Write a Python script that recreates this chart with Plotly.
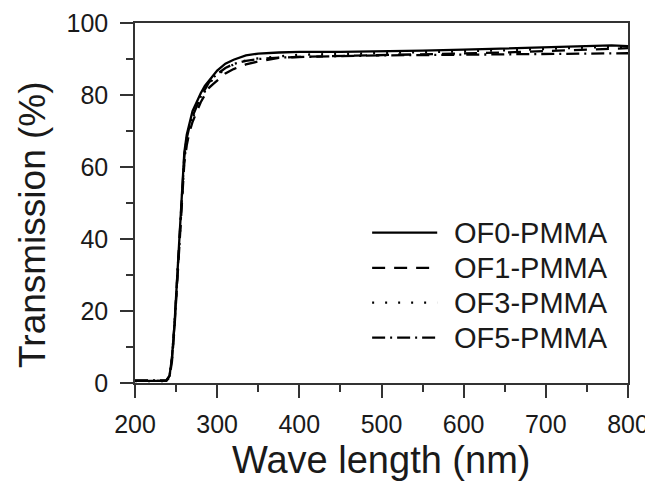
import plotly.graph_objects as go

wavelength = [200, 220, 238, 242, 245, 248, 251, 254, 257, 260, 263, 266, 270, 275, 280, 285, 290,
              295, 300, 310, 320, 335, 350, 375, 400, 450, 500, 550, 600, 650, 700, 750, 780, 800]
of0 = [0.6, 0.6, 0.6, 2, 7, 16, 28, 42, 55, 64, 69, 72, 75.5, 78, 80.5, 82.5, 84, 85.5, 86.8,
       88.7, 89.8, 91, 91.5, 91.8, 92, 92, 92.1, 92.3, 92.6, 92.9, 93.2, 93.5, 93.8, 93.6]
of1 = [0.6, 0.6, 0.6, 1.5, 6, 15, 27, 40, 52, 61, 66, 69.5, 72.5, 75.5, 78, 80, 82, 83, 84,
       86, 87.2, 88.5, 89.3, 90.3, 90.6, 90.8, 91, 91.2, 91.5, 91.8, 92.2, 92.6, 93, 93]
of3 = [0.5, 0.5, 0.5, 1.8, 6.5, 15.5, 27.5, 41, 53, 62, 67, 70.5, 73.5, 76.5, 79, 81, 83, 84.5, 85.5,
       87.3, 88.5, 89.6, 90.2, 90.8, 91.2, 91.4, 91.6, 91.8, 92.1, 92.4, 92.8, 93.1, 93.4, 93.3]
of5 = [0.7, 0.7, 0.7, 2, 7, 16, 28, 41.5, 54, 63, 68, 71, 74, 77, 79.5, 81.5, 83.5, 84.8, 85.8,
       87.5, 88.6, 89.5, 90, 90.4, 90.6, 90.8, 91, 91.1, 91.2, 91.3, 91.4, 91.5, 91.6, 91.6]

series_names = ["OF0-PMMA", "OF1-PMMA", "OF3-PMMA", "OF5-PMMA"]
series_values = [of0, of1, of3, of5]
dashes = ["solid", "13px,9px", "2px,11px", "13px,5px,2px,5px"]
x_title = "Wave length (nm)"
y_title = "Transmission (%)"

FONT = "Liberation Sans, Arial, sans-serif"
INK = "#1a1a1a"

fig = go.Figure()
for name, vals, d in zip(series_names, series_values, dashes):
    fig.add_trace(go.Scatter(x=wavelength, y=vals, mode="lines", name=name,
                             line=dict(color="black", width=2.3, dash=d),
                             showlegend=False))

# custom legend (long line samples as in the reference)
leg_y = [0.4175, 0.320, 0.223, 0.126]
for name, d, yy in zip(series_names, dashes, leg_y):
    fig.add_shape(type="line", xref="paper", yref="paper", x0=0.481, x1=0.613, y0=yy, y1=yy,
                  line=dict(color="black", width=2.3, dash=d))
    fig.add_annotation(xref="paper", yref="paper", x=0.643, y=yy, text=name, showarrow=False,
                       xanchor="left", yanchor="middle",
                       font=dict(family=FONT, size=29, color=INK))

# axis titles placed as in the reference
fig.add_annotation(xref="paper", yref="paper", x=0.499, y=-0.214, text=x_title, showarrow=False,
                   xanchor="center", yanchor="middle",
                   font=dict(family=FONT, size=38, color=INK))
fig.add_annotation(xref="paper", yref="paper", x=-0.207, y=0.439, text=y_title, showarrow=False,
                   textangle=-90, xanchor="center", yanchor="middle",
                   font=dict(family=FONT, size=37, color=INK))

axis_common = dict(showgrid=False, zeroline=False, ticks="outside", ticklen=13, tickwidth=1.5,
                   tickcolor="#333", showline=True, linecolor="#333", linewidth=1.5, mirror=True,
                   automargin=False,
                   tickfont=dict(family=FONT, size=25, color=INK))

# page body has an 8px margin, so the figure is sized to fit the window
fig.update_layout(
    width=645, height=476, autosize=False,
    margin=dict(l=127, r=25, t=15, b=101),
    paper_bgcolor="white", plot_bgcolor="white",
    xaxis=dict(range=[200, 800], dtick=100, tick0=200, ticklabelstandoff=5,
               minor=dict(dtick=50, ticks="outside", ticklen=7, tickwidth=1.5, tickcolor="#333"),
               **axis_common),
    yaxis=dict(range=[0, 100], dtick=20, tick0=0, ticklabelstandoff=7,
               minor=dict(dtick=10, ticks="outside", ticklen=7, tickwidth=1.5, tickcolor="#333"),
               **axis_common),
)

fig.write_html("out.html")
